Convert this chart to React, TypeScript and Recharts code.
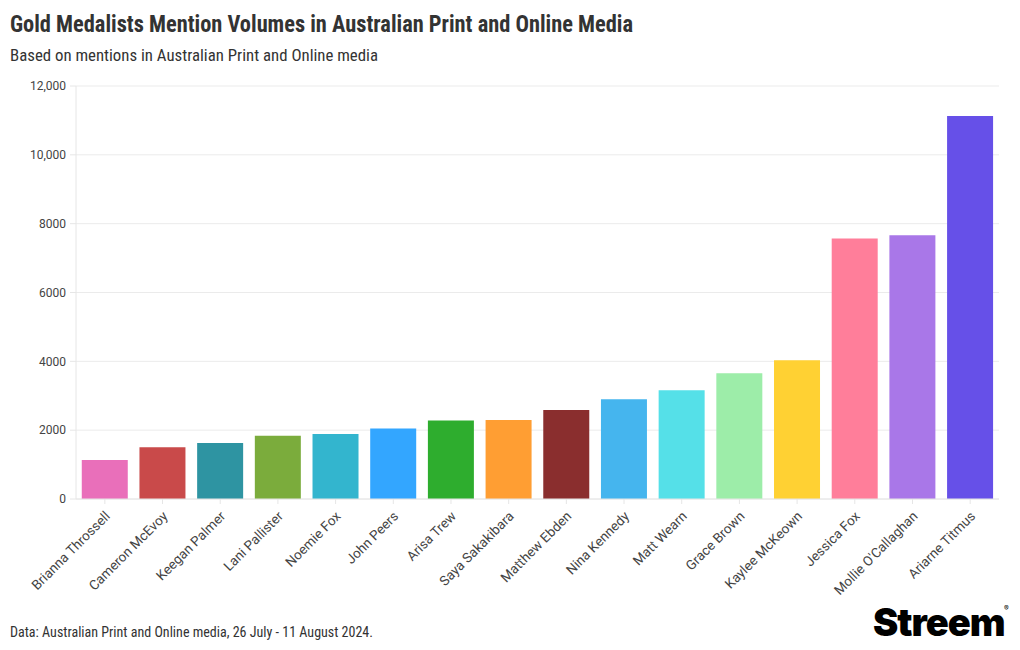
import React from 'react';
import { BarChart, Bar, XAxis, YAxis, CartesianGrid, Cell } from 'recharts';

const athletes = [
  'Brianna Throssell', 'Cameron McEvoy', 'Keegan Palmer', 'Lani Pallister', 'Noemie Fox',
  'John Peers', 'Arisa Trew', 'Saya Sakakibara', 'Matthew Ebden', 'Nina Kennedy',
  'Matt Wearn', 'Grace Brown', 'Kaylee McKeown', 'Jessica Fox', "Mollie O'Callaghan", 'Ariarne Titmus',
];
const mentions = [1130, 1507, 1630, 1835, 1885, 2045, 2278, 2299, 2588, 2900, 3160, 3652, 4030, 7570, 7660, 11130];
const barColors = [
  '#E96FBA', '#C94A4A', '#2E94A2', '#7BAC3C', '#33B5CE', '#33A6FF', '#2EAD2E', '#FF9E33',
  '#8A2E2E', '#45B5EE', '#55E0E8', '#9DEDA9', '#FFD133', '#FF7E9A', '#A977E8', '#6650E8',
];
const yTicks = [0, 2000, 4000, 6000, 8000, 10000, 12000];

const data = athletes.map((name, i) => ({ name, value: mentions[i] }));

const FONT = 'Roboto, sans-serif';

const fmt = (v: number) => (v >= 10000 ? v.toLocaleString('en-US') : String(v));

const XTick = (props: any) => {
  const { x, y, payload } = props;
  return (
    <g transform={`translate(${x + 6},${y + 11})`}>
      <text
        x={0}
        y={0}
        textAnchor="end"
        transform="rotate(-45)"
        fill="#444"
        fontSize={13.5}
        fontFamily={FONT}
      >
        {payload.value}
      </text>
    </g>
  );
};

export default function App() {
  return (
    <div style={{ position: 'absolute', left: 0, top: 0, width: 1020, height: 650, background: '#fff', overflow: 'hidden' }}>
      <svg width={1020} height={650} style={{ position: 'absolute', left: 0, top: 0 }}>
        <text x={10} y={32} fontFamily={FONT} fontWeight={700} fontSize={23.5} fill="#333" textLength={623} lengthAdjust="spacingAndGlyphs" style={{ fontStretch: 'condensed' }}>
          Gold Medalists Mention Volumes in Australian Print and Online Media
        </text>
        <text x={10} y={61} fontFamily={FONT} fontSize={17} fill="#333" textLength={368} lengthAdjust="spacingAndGlyphs" style={{ fontStretch: 'condensed' }}>
          Based on mentions in Australian Print and Online media
        </text>
        <text x={10} y={637} fontFamily={FONT} fontSize={14} fill="#333" textLength={363} lengthAdjust="spacingAndGlyphs" style={{ fontStretch: 'condensed' }}>
          Data: Australian Print and Online media, 26 July - 11 August 2024.
        </text>
        <text x={873} y={636} fontFamily="Inter, sans-serif" fontWeight={900} fontSize={38} fill="#000" letterSpacing={-1}>
          Streem
        </text>
        <text x={1004} y={611} fontFamily="Inter, sans-serif" fontSize={7} fill="#000">®</text>
      </svg>
      <div style={{ position: 'absolute', left: 0, top: 0 }}>
        <BarChart
          width={1020}
          height={650}
          data={data}
          margin={{ top: 86, right: 21, bottom: 51, left: 16 }}
          barCategoryGap="10%"
        >
          <CartesianGrid vertical={false} stroke="#ebebeb" />
          <XAxis
            dataKey="name"
            interval={0}
            height={100}
            tick={<XTick />}
            tickSize={5}
            axisLine={{ stroke: '#e6e6e6' }}
            tickLine={{ stroke: '#e6e6e6' }}
          />
          <YAxis
            width={60}
            domain={[0, 12000]}
            ticks={yTicks}
            tickFormatter={fmt}
            tickSize={6}
            tickMargin={4}
            axisLine={{ stroke: '#e6e6e6' }}
            tickLine={{ stroke: '#e6e6e6' }}
            tick={{ fill: '#444', fontSize: 12, fontFamily: FONT }}
          />
          <Bar dataKey="value" isAnimationActive={false}>
            {data.map((d, i) => (
              <Cell key={d.name} fill={barColors[i]} />
            ))}
          </Bar>
        </BarChart>
      </div>
    </div>
  );
}
